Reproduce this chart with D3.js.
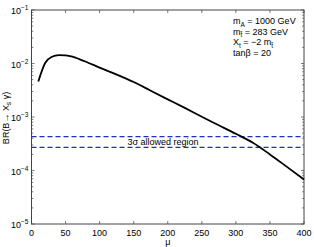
<!DOCTYPE html>
<html>
<head>
<meta charset="utf-8">
<script src="https://cdn.jsdelivr.net/npm/d3@7"></script>
<style>
  body { margin: 0; background: #fff; }
  text { font-family: "Liberation Sans", Arial, sans-serif; fill: #000; }
</style>
</head>
<body>
<svg id="chart" width="314" height="247"></svg>
<script>
// curve: mu vs BR(B -> Xs gamma)
var mu = [10, 20, 30, 40, 50, 60, 70, 80, 100, 120, 150, 175, 200, 225, 250, 275, 300, 325, 350, 375, 400];
var br = [4.6e-3, 1.02e-2, 1.34e-2, 1.44e-2, 1.42e-2, 1.34e-2, 1.21e-2, 1.08e-2, 8.4e-3, 6.6e-3, 4.5e-3,
          3.1e-3, 2.14e-3, 1.48e-3, 1.01e-3, 7.0e-4, 4.85e-4, 3.3e-4, 2.0e-4, 1.17e-4, 6.8e-5];
var bounds = [4.3e-4, 2.7e-4];
var xTicks = [0, 50, 100, 150, 200, 250, 300, 350, 400];
var yExps = [-1, -2, -3, -4, -5];
var infoLines = [
  ['m', 'A', ' = 1000 GeV'],
  ['m', 't\u0303', ' = 283 GeV'],
  ['X', 't', ' = \u22122 m', 't\u0303'],
  ['tan\u03b2 = 20']
];

var svg = d3.select('#chart');
var margin = {top: 10, right: 10, bottom: 23, left: 31.5};
var width = +svg.attr('width') - margin.left - margin.right;
var height = +svg.attr('height') - margin.top - margin.bottom;
var g = svg.append('g').attr('transform', 'translate(' + margin.left + ',' + margin.top + ')');

var x = d3.scaleLinear().domain([0, 400]).range([0, width]);
var y = d3.scaleLog().domain([1e-5, 1e-1]).range([height, 0]);

// minor log ticks
var minor = [];
for (var e = -5; e < -1; e++) {
  for (var k = 2; k <= 9; k++) minor.push(k * Math.pow(10, e));
}

var frame = '#444';
// x ticks top and bottom
g.selectAll('.xt').data(xTicks).enter().append('line')
  .attr('x1', function(d) { return x(d); }).attr('x2', function(d) { return x(d); })
  .attr('y1', height).attr('y2', height - 3).attr('stroke', frame).attr('stroke-width', 0.7);
g.selectAll('.xt2').data(xTicks).enter().append('line')
  .attr('x1', function(d) { return x(d); }).attr('x2', function(d) { return x(d); })
  .attr('y1', 0).attr('y2', 3).attr('stroke', frame).attr('stroke-width', 0.7);

// y ticks both sides
var yMaj = yExps.map(function(e) { return Math.pow(10, e); });
[[yMaj, 3], [minor, 1.8]].forEach(function(set) {
  g.selectAll(null).data(set[0]).enter().append('line')
    .attr('x1', 0).attr('x2', set[1])
    .attr('y1', function(d) { return y(d); }).attr('y2', function(d) { return y(d); })
    .attr('stroke', frame).attr('stroke-width', 0.7);
  g.selectAll(null).data(set[0]).enter().append('line')
    .attr('x1', width).attr('x2', width - set[1])
    .attr('y1', function(d) { return y(d); }).attr('y2', function(d) { return y(d); })
    .attr('stroke', frame).attr('stroke-width', 0.7);
});

g.append('rect').attr('width', width).attr('height', height)
  .attr('fill', 'none').attr('stroke', frame).attr('stroke-width', 1);

// x tick labels
g.selectAll('.xl').data(xTicks).enter().append('text')
  .attr('x', function(d) { return x(d); }).attr('y', height + 12)
  .attr('text-anchor', 'middle').attr('font-size', 9).text(function(d) { return d; });

// y tick labels 10^e
yExps.forEach(function(e) {
  var t = g.append('text').attr('x', -3).attr('y', y(Math.pow(10, e)) + 4)
    .attr('text-anchor', 'end').attr('font-size', 9);
  t.append('tspan').text('10');
  t.append('tspan').attr('dy', -4).attr('font-size', 6.5).text('\u2212' + (-e));
});

// axis titles
g.append('text').attr('x', width / 2).attr('y', height + 21)
  .attr('text-anchor', 'middle').attr('font-size', 9).text('\u03bc');
var yl = svg.append('text').attr('transform', 'translate(9,' + 118 + ') rotate(-90)')
  .attr('text-anchor', 'middle').attr('font-size', 9);
yl.append('tspan').text('BR(B\u2192 X');
yl.append('tspan').attr('dy', 2).attr('font-size', 6.5).text('s');
yl.append('tspan').attr('dy', -2).text(' \u03b3)');

// allowed region bounds
g.selectAll('.bnd').data(bounds).enter().append('line')
  .attr('x1', 0).attr('x2', width)
  .attr('y1', function(d) { return y(d); }).attr('y2', function(d) { return y(d); })
  .attr('stroke', '#1f2fbf').attr('stroke-width', 1.4).attr('stroke-dasharray', '5,3');
g.append('text').attr('x', x(193)).attr('y', y(Math.sqrt(bounds[0] * bounds[1])) + 3)
  .attr('text-anchor', 'middle').attr('font-size', 9).text('3\u03c3 allowed region');

// curve
var line = d3.line().curve(d3.curveMonotoneX)
  .x(function(d, i) { return x(mu[i]); }).y(function(d) { return y(d); });
g.append('path').datum(br).attr('d', line)
  .attr('fill', 'none').attr('stroke', '#000').attr('stroke-width', 1.8);

// parameter box
infoLines.forEach(function(parts, i) {
  var t = svg.append('text').attr('x', 233).attr('y', 24 + i * 10.5).attr('font-size', 9);
  parts.forEach(function(p, j) {
    var s = t.append('tspan').text(p);
    if (j % 2 === 1) s.attr('dy', 2.5).attr('font-size', 6.5);
    else if (j > 0) s.attr('dy', -2.5);
  });
});
</script>
</body>
</html>
